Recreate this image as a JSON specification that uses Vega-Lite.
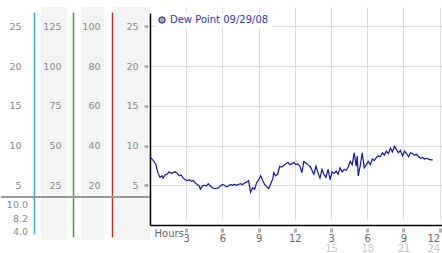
{
  "$schema": "https://vega.github.io/schema/vega-lite/v6.json",
  "padding": {"left": 0, "top": 7, "right": 0, "bottom": 0},
  "spacing": 0,
  "bounds": "flush",
  "config": {"view": {"stroke": null}, "font": "DejaVu Sans"},
  "datasets": {
    "sep": [{"line": "separator"}],
    "stats": [{"stat": "max", "value": 10.0}, {"stat": "avg", "value": 8.2}, {"stat": "min", "value": 4.0}],
    "dew": [
      {"h": 0.00, "v": 8.6}, {"h": 0.17, "v": 8.3}, {"h": 0.33, "v": 8.0}, {"h": 0.50, "v": 7.6}, {"h": 0.58, "v": 7.0},
      {"h": 0.67, "v": 6.5}, {"h": 0.83, "v": 6.0}, {"h": 1.00, "v": 6.2}, {"h": 1.08, "v": 5.9}, {"h": 1.25, "v": 6.3},
      {"h": 1.42, "v": 6.4}, {"h": 1.58, "v": 6.7}, {"h": 1.75, "v": 6.5}, {"h": 1.92, "v": 6.6}, {"h": 2.08, "v": 6.7},
      {"h": 2.25, "v": 6.5}, {"h": 2.42, "v": 6.2}, {"h": 2.58, "v": 6.3}, {"h": 2.75, "v": 5.9}, {"h": 2.92, "v": 5.7},
      {"h": 3.08, "v": 5.6}, {"h": 3.25, "v": 5.7}, {"h": 3.42, "v": 5.5}, {"h": 3.58, "v": 5.6}, {"h": 3.75, "v": 5.3},
      {"h": 3.92, "v": 5.1}, {"h": 4.08, "v": 4.9}, {"h": 4.17, "v": 4.5}, {"h": 4.33, "v": 4.9}, {"h": 4.50, "v": 5.0},
      {"h": 4.67, "v": 4.9}, {"h": 4.83, "v": 5.2}, {"h": 5.00, "v": 4.9}, {"h": 5.17, "v": 4.7}, {"h": 5.33, "v": 4.6},
      {"h": 5.50, "v": 4.6}, {"h": 5.67, "v": 4.7}, {"h": 5.83, "v": 4.9}, {"h": 6.00, "v": 5.1}, {"h": 6.17, "v": 5.0},
      {"h": 6.33, "v": 4.8}, {"h": 6.50, "v": 4.9}, {"h": 6.67, "v": 5.1}, {"h": 6.83, "v": 5.0}, {"h": 7.00, "v": 5.1},
      {"h": 7.17, "v": 5.0}, {"h": 7.33, "v": 5.1}, {"h": 7.50, "v": 5.2}, {"h": 7.67, "v": 5.1}, {"h": 7.83, "v": 5.3},
      {"h": 8.00, "v": 5.4}, {"h": 8.17, "v": 5.6}, {"h": 8.33, "v": 4.1}, {"h": 8.50, "v": 4.7}, {"h": 8.67, "v": 4.5},
      {"h": 8.83, "v": 5.3}, {"h": 9.00, "v": 5.7}, {"h": 9.17, "v": 6.2}, {"h": 9.33, "v": 5.6}, {"h": 9.50, "v": 5.1},
      {"h": 9.67, "v": 4.8}, {"h": 9.83, "v": 4.6}, {"h": 10.00, "v": 5.2}, {"h": 10.17, "v": 5.8}, {"h": 10.25, "v": 6.6},
      {"h": 10.42, "v": 6.2}, {"h": 10.58, "v": 6.4}, {"h": 10.75, "v": 7.4}, {"h": 10.92, "v": 7.3}, {"h": 11.08, "v": 7.5},
      {"h": 11.25, "v": 7.7}, {"h": 11.42, "v": 7.9}, {"h": 11.58, "v": 7.6}, {"h": 11.75, "v": 7.7}, {"h": 11.92, "v": 7.9},
      {"h": 12.08, "v": 7.6}, {"h": 12.25, "v": 7.7}, {"h": 12.42, "v": 7.4}, {"h": 12.58, "v": 6.6}, {"h": 12.75, "v": 8.0},
      {"h": 12.92, "v": 7.8}, {"h": 13.08, "v": 7.6}, {"h": 13.25, "v": 7.4}, {"h": 13.42, "v": 6.9}, {"h": 13.58, "v": 6.4},
      {"h": 13.75, "v": 7.4}, {"h": 13.92, "v": 6.6}, {"h": 14.08, "v": 5.9}, {"h": 14.25, "v": 7.0}, {"h": 14.42, "v": 6.3},
      {"h": 14.58, "v": 6.0}, {"h": 14.75, "v": 7.0}, {"h": 14.92, "v": 5.7}, {"h": 15.08, "v": 6.7}, {"h": 15.25, "v": 6.5},
      {"h": 15.42, "v": 6.8}, {"h": 15.58, "v": 6.4}, {"h": 15.75, "v": 7.2}, {"h": 15.92, "v": 6.7}, {"h": 16.08, "v": 7.0},
      {"h": 16.25, "v": 6.9}, {"h": 16.42, "v": 7.3}, {"h": 16.58, "v": 8.0}, {"h": 16.75, "v": 7.6}, {"h": 16.92, "v": 9.1},
      {"h": 17.08, "v": 7.4}, {"h": 17.17, "v": 8.7}, {"h": 17.25, "v": 6.2}, {"h": 17.42, "v": 7.5}, {"h": 17.58, "v": 9.1},
      {"h": 17.75, "v": 7.2}, {"h": 17.92, "v": 7.6}, {"h": 18.08, "v": 8.0}, {"h": 18.25, "v": 7.6}, {"h": 18.42, "v": 8.3},
      {"h": 18.58, "v": 8.1}, {"h": 18.75, "v": 8.5}, {"h": 18.92, "v": 8.7}, {"h": 19.08, "v": 8.6}, {"h": 19.25, "v": 9.1},
      {"h": 19.42, "v": 8.8}, {"h": 19.58, "v": 9.3}, {"h": 19.75, "v": 9.0}, {"h": 19.92, "v": 9.7}, {"h": 20.08, "v": 9.2},
      {"h": 20.25, "v": 9.9}, {"h": 20.42, "v": 9.5}, {"h": 20.58, "v": 9.1}, {"h": 20.75, "v": 9.4}, {"h": 20.92, "v": 8.7},
      {"h": 21.08, "v": 9.3}, {"h": 21.25, "v": 9.0}, {"h": 21.42, "v": 8.6}, {"h": 21.58, "v": 9.1}, {"h": 21.75, "v": 9.0},
      {"h": 21.92, "v": 8.8}, {"h": 22.08, "v": 8.9}, {"h": 22.25, "v": 8.6}, {"h": 22.42, "v": 8.4}, {"h": 22.58, "v": 8.5},
      {"h": 22.75, "v": 8.3}, {"h": 22.92, "v": 8.4}, {"h": 23.08, "v": 8.3}, {"h": 23.25, "v": 8.2}, {"h": 23.42, "v": 8.2}
    ]
  },
  "hconcat": [
    {
      "width": 40,
      "height": 233,
      "layer": [
        {
          "data": {"name": "sep"},
          "mark": {"type": "rule", "color": "#9a9a9a", "strokeWidth": 2},
          "encoding": {
            "y": {
              "datum": 3.526, "type": "quantitative",
              "scale": {"domain": [-1.134, 26.826], "range": [227, 5], "nice": false, "zero": false},
              "axis": {"orient": "right", "offset": -7, "values": [5, 10, 15, 20, 25], "title": null, "grid": false,
                "ticks": false, "tickSize": 0, "domainColor": "#3fa7c4", "domainWidth": 1.5, "labelPadding": -13,
                "labelAlign": "right", "labelColor": "#888", "labelFontSize": 9.5, "labelFlush": false}
            }
          }
        },
        {
          "data": {"name": "stats"},
          "mark": {"type": "text", "align": "right", "dx": 7, "color": "#888", "fontSize": 9.5},
          "encoding": {
            "y": {"field": "stat", "type": "ordinal",
              "scale": {"type": "point", "domain": ["max", "avg", "min"], "range": [198, 225], "padding": 0},
              "axis": null},
            "text": {"field": "value", "type": "quantitative", "format": ".1f"}
          }
        }
      ],
      "resolve": {"scale": {"y": "independent"}}
    },
    {
      "width": 26,
      "height": 233,
      "view": {"fill": "#f4f4f4"},
      "data": {"name": "sep"},
      "mark": {"type": "rule", "color": "#9a9a9a", "strokeWidth": 2},
      "encoding": {
        "y": {
          "datum": 17.63, "type": "quantitative",
          "scale": {"domain": [-7.557, 134.13], "range": [230, 5], "nice": false, "zero": false},
          "axis": {"orient": "right", "offset": 6, "values": [25, 50, 75, 100, 125], "title": null, "grid": false,
            "ticks": false, "tickSize": 0, "domainColor": "#3d9f3d", "domainWidth": 1.5, "labelPadding": -12,
            "labelAlign": "right", "labelColor": "#888", "labelFontSize": 9.5, "labelFlush": false}
        }
      }
    },
    {
      "width": 14,
      "height": 233,
      "data": {"name": "sep"},
      "mark": {"type": "rule", "color": "#9a9a9a", "strokeWidth": 2},
      "encoding": {
        "y": {"datum": 3.526, "type": "quantitative",
          "scale": {"domain": [-1.134, 26.826], "range": [227, 5], "nice": false, "zero": false}, "axis": null}
      }
    },
    {
      "width": 23,
      "height": 233,
      "view": {"fill": "#f4f4f4"},
      "data": {"name": "sep"},
      "mark": {"type": "rule", "color": "#9a9a9a", "strokeWidth": 2},
      "encoding": {
        "y": {
          "datum": 14.106, "type": "quantitative",
          "scale": {"domain": [-6.045, 107.3], "range": [230, 5], "nice": false, "zero": false},
          "axis": {"orient": "right", "offset": 8, "values": [20, 40, 60, 80, 100], "title": null, "grid": false,
            "ticks": false, "tickSize": 0, "domainColor": "#a83232", "domainWidth": 1.5, "labelPadding": -12,
            "labelAlign": "right", "labelColor": "#888", "labelFontSize": 9.5, "labelFlush": false}
        }
      }
    },
    {
      "width": 10,
      "height": 233,
      "data": {"name": "sep"},
      "mark": {"type": "rule", "color": "#9a9a9a", "strokeWidth": 2},
      "encoding": {
        "y": {"datum": 3.526, "type": "quantitative",
          "scale": {"domain": [-1.134, 26.826], "range": [227, 5], "nice": false, "zero": false}, "axis": null}
      }
    },
    {
      "width": 36,
      "height": 233,
      "view": {"fill": "#f4f4f4"},
      "data": {"name": "sep"},
      "mark": {"type": "rule", "color": "#9a9a9a", "strokeWidth": 2},
      "encoding": {
        "y": {"datum": 3.526, "type": "quantitative",
          "scale": {"domain": [-1.134, 26.826], "range": [227, 5], "nice": false, "zero": false}, "axis": null}
      }
    },
    {
      "width": 292,
      "height": 218,
      "data": {"name": "dew"},
      "layer": [
        {
          "mark": {"type": "line", "strokeWidth": 1.2},
          "encoding": {
            "x": {"field": "h", "type": "quantitative",
              "scale": {"domain": [0, 24.19], "nice": false, "zero": false},
              "axis": {"orient": "bottom", "values": [3, 6, 9, 12, 15, 18, 21, 24],
                "labelExpr": "datum.value > 12 ? datum.value - 12 : datum.value",
                "grid": true, "gridColor": "#dcdcdc", "domainColor": "#000", "domainWidth": 1.5,
                "tickSize": 7, "tickWidth": 3, "tickColor": "#b0b0b0", "tickDash": [0, 3, 4, 0],
                "labelPadding": 1, "labelColor": "#666", "labelFontSize": 10, "labelFlush": 3,
                "title": "Hours", "titleAnchor": "start", "titleAlign": "left", "titleX": 4, "titleY": 8,
                "titleBaseline": "middle", "titleColor": "#666", "titleFontWeight": "normal", "titleFontSize": 10}},
            "y": {"field": "v", "type": "quantitative",
              "scale": {"domain": [0, 26.7], "range": [218, 6], "nice": false, "zero": false},
              "axis": {"values": [5, 10, 15, 20, 25], "grid": true, "gridColor": "#dcdcdc", "domainColor": "#000",
                "domainWidth": 1.5, "tickSize": 6, "tickWidth": 3, "tickColor": "#b0b0b0", "tickDash": [0, 2, 4, 0],
                "labelPadding": 6, "labelColor": "#888", "labelFontSize": 9.5, "labelFlush": false, "title": null}},
            "color": {"datum": "Dew Point 09/29/08", "scale": {"range": ["#1414a0"]},
              "legend": {"orient": "none", "legendX": 154, "legendY": 6, "title": null, "symbolType": "circle",
                "symbolSize": 40, "labelColor": "#2a3aa8", "labelFontSize": 10, "labelOffset": 3, "padding": 2,
                "fillColor": "#ffffff",
                "encode": {"symbols": {"update": {"fill": {"value": "#aaaaaa"}, "stroke": {"value": "#999999"}, "strokeWidth": {"value": 1}}}}}}
          }
        },
        {
          "mark": {"type": "point", "opacity": 0},
          "encoding": {
            "x": {"field": "h", "type": "quantitative",
              "axis": {"orient": "bottom", "values": [15, 18, 21, 24], "grid": false, "domain": false, "ticks": false,
                "labelPadding": 18, "labelColor": "#c8c8c8", "labelFontSize": 10, "labelFlush": 3, "title": null}}
          }
        }
      ],
      "resolve": {"axis": {"x": "independent"}}
    }
  ]
}
